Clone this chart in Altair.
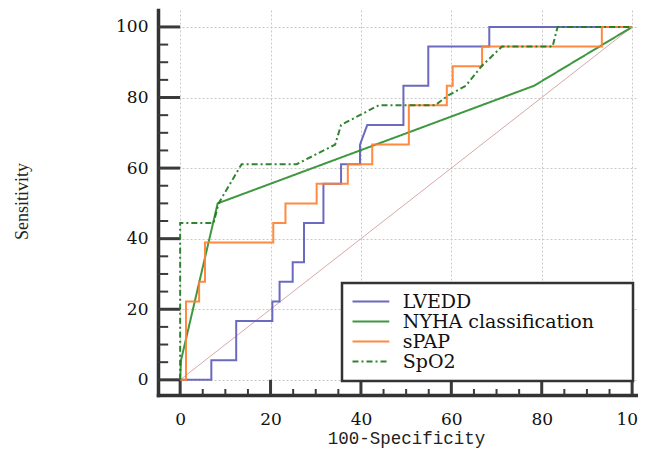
import altair as alt
import pandas as pd

# ---- data ----
series_names = ["LVEDD", "NYHA classification", "sPAP", "SpO2"]
series_colors = ["#5d5db8", "#2f8f2f", "#ff8030", "#1f7a1f"]
series_dash = [[1, 0], [1, 0], [1, 0], [6, 3, 2, 3]]

lvedd_x = [0, 6.9, 6.9, 12.4, 12.4, 20.4, 20.4, 22.0, 22.0, 24.9, 24.9, 27.4, 27.4,
           31.7, 31.7, 35.6, 35.6, 39.8, 39.8, 41.4, 49.4, 49.4, 54.9, 54.9, 68.4, 68.4, 100]
lvedd_y = [0, 0, 5.56, 5.56, 16.67, 16.67, 22.22, 22.22, 27.78, 27.78, 33.33, 33.33, 44.44,
           44.44, 55.56, 55.56, 61.11, 61.11, 66.67, 72.22, 72.22, 83.33, 83.33, 94.44, 94.44, 100, 100]

nyha_x = [0, 0.2, 8.3, 78.3, 100]
nyha_y = [0, 5.56, 50, 83.33, 100]

spap_x = [0, 1.3, 1.3, 4.2, 4.2, 5.5, 5.5, 20.6, 20.6, 23.3, 23.3, 30.2, 30.2, 37.1, 37.1,
          42.5, 42.5, 50.6, 50.6, 59.0, 59.0, 60.3, 60.3, 66.8, 66.8, 93.3, 93.3, 100]
spap_y = [0, 0, 22.22, 22.22, 27.78, 27.78, 38.89, 38.89, 44.44, 44.44, 50, 50, 55.56, 55.56,
          61.11, 61.11, 66.67, 66.67, 77.78, 77.78, 83.33, 83.33, 88.89, 88.89, 94.44, 94.44, 100, 100]

spo2_x = [0, 0, 7.4, 8.5, 13.6, 25.8, 34.3, 35.6, 43.9, 56.4, 59.2, 63.2, 66.7, 71.2, 82.4, 83.5, 100]
spo2_y = [0, 44.44, 44.44, 50, 61.11, 61.11, 66.67, 72.22, 77.78, 77.78, 80.5, 83.33, 88.89,
          94.44, 94.44, 100, 100]

diag_x = [0, 100]
diag_y = [0, 100]

tick_major = [0, 20, 40, 60, 80, 100]
tick_minor = [v for v in range(5, 100, 5) if v % 20 != 0]

# ---- build tables ----
rows = []
for name, xs_, ys_ in zip(series_names, [lvedd_x, nyha_x, spap_x, spo2_x],
                          [lvedd_y, nyha_y, spap_y, spo2_y]):
    for i, (xv, yv) in enumerate(zip(xs_, ys_)):
        rows.append({"series": name, "i": i, "x": xv, "y": yv})
df = pd.DataFrame(rows)
diag_df = pd.DataFrame({"x": diag_x, "y": diag_y})
major_df = pd.DataFrame({"v": tick_major})
minor_df = pd.DataFrame({"v": tick_minor})

X_MIN, X_MAX = -4.9, 101.3
Y_MIN, Y_MAX = -4.3, 104.8
xscale = alt.Scale(domain=[X_MIN, X_MAX], nice=False, zero=False)
yscale = alt.Scale(domain=[Y_MIN, Y_MAX], nice=False, zero=False)

axis_common = dict(
    values=tick_major, grid=True, gridDash=[2, 2], gridColor="#c8c8c8", gridWidth=1,
    domain=True, domainColor="#333333", domainWidth=3.5, domainCap="square",
    ticks=False, tickSize=0, labelFont="DejaVu Serif", labelFontSize=17,
    labelColor="#111111", labelFlush=False, labelOverlap=False,
    titleFontWeight="normal", titleColor="#222222",
)
x_axis = alt.Axis(
    **axis_common, labelPadding=16, labelBaseline="top",
    title="100-Specificity", titleFont="Liberation Mono", titleFontSize=17.5,
    titleX=248, titleY=48, titleBaseline="alphabetic", titleAlign="center",
)
y_axis = alt.Axis(
    **axis_common, labelPadding=10, labelAlign="right", labelBaseline="middle",
    title="Sensitivity", titleFont="Liberation Serif", titleFontSize=18,
    titleAngle=270, titleX=-136, titleY=191, titleBaseline="middle", titleAlign="center",
)

diag = alt.Chart(diag_df).mark_line(color="#d8a8a8", strokeWidth=1).encode(
    x=alt.X("x:Q", scale=xscale, axis=x_axis),
    y=alt.Y("y:Q", scale=yscale, axis=y_axis),
)

legend = alt.Legend(
    title=" ", titleOrient="right", titlePadding=30, titleFontSize=10,
    orient="none", legendX=184, legendY=273,
    symbolType="M-1,0H3.6", symbolSize=256, symbolStrokeWidth=2,
    labelFont="DejaVu Serif", labelFontSize=19, labelColor="#111111", labelLimit=400,
    labelOffset=32.8, padding=9, rowPadding=0,
    strokeColor="#333333", fillColor="white",
)

lines = alt.Chart(df).mark_line(strokeWidth=2, opacity=0.92).encode(
    x=alt.X("x:Q", scale=xscale, axis=x_axis),
    y=alt.Y("y:Q", scale=yscale, axis=y_axis),
    color=alt.Color("series:N", scale=alt.Scale(domain=series_names, range=series_colors),
                    legend=legend),
    strokeDash=alt.StrokeDash("series:N", scale=alt.Scale(domain=series_names, range=series_dash),
                              legend=legend),
    order=alt.Order("i:Q"),
)

tick_color = "#3a3a3a"
y_major = alt.Chart(major_df).mark_rule(color=tick_color, strokeWidth=3).encode(
    y=alt.Y("v:Q", scale=yscale, axis=y_axis),
    x=alt.XDatum(X_MIN, scale=xscale, axis=x_axis), x2=alt.X2Datum(0),
)
y_minor = alt.Chart(minor_df).mark_rule(color=tick_color, strokeWidth=2).encode(
    y=alt.Y("v:Q", scale=yscale, axis=y_axis),
    x=alt.XDatum(X_MIN, scale=xscale, axis=x_axis), x2=alt.X2Datum(-2.65),
)
x_major = alt.Chart(major_df).mark_rule(color=tick_color, strokeWidth=3).encode(
    x=alt.X("v:Q", scale=xscale, axis=x_axis),
    y=alt.YDatum(Y_MIN, scale=yscale, axis=y_axis), y2=alt.Y2Datum(0),
)
x_minor = alt.Chart(minor_df).mark_rule(color=tick_color, strokeWidth=2).encode(
    x=alt.X("v:Q", scale=xscale, axis=x_axis),
    y=alt.YDatum(Y_MIN, scale=yscale, axis=y_axis), y2=alt.Y2Datum(-2.6),
)

chart = alt.layer(diag, y_major, y_minor, x_major, x_minor, lines).properties(
    width=480, height=385,
    autosize=alt.AutoSizeParams(type="none"),
    padding={"left": 150, "top": 2, "right": 0, "bottom": 53},
    background="white",
).configure_view(stroke=None).configure_legend(strokeWidth=2.5)

chart.save("out.html", embed_options={"renderer": "svg", "actions": False})
